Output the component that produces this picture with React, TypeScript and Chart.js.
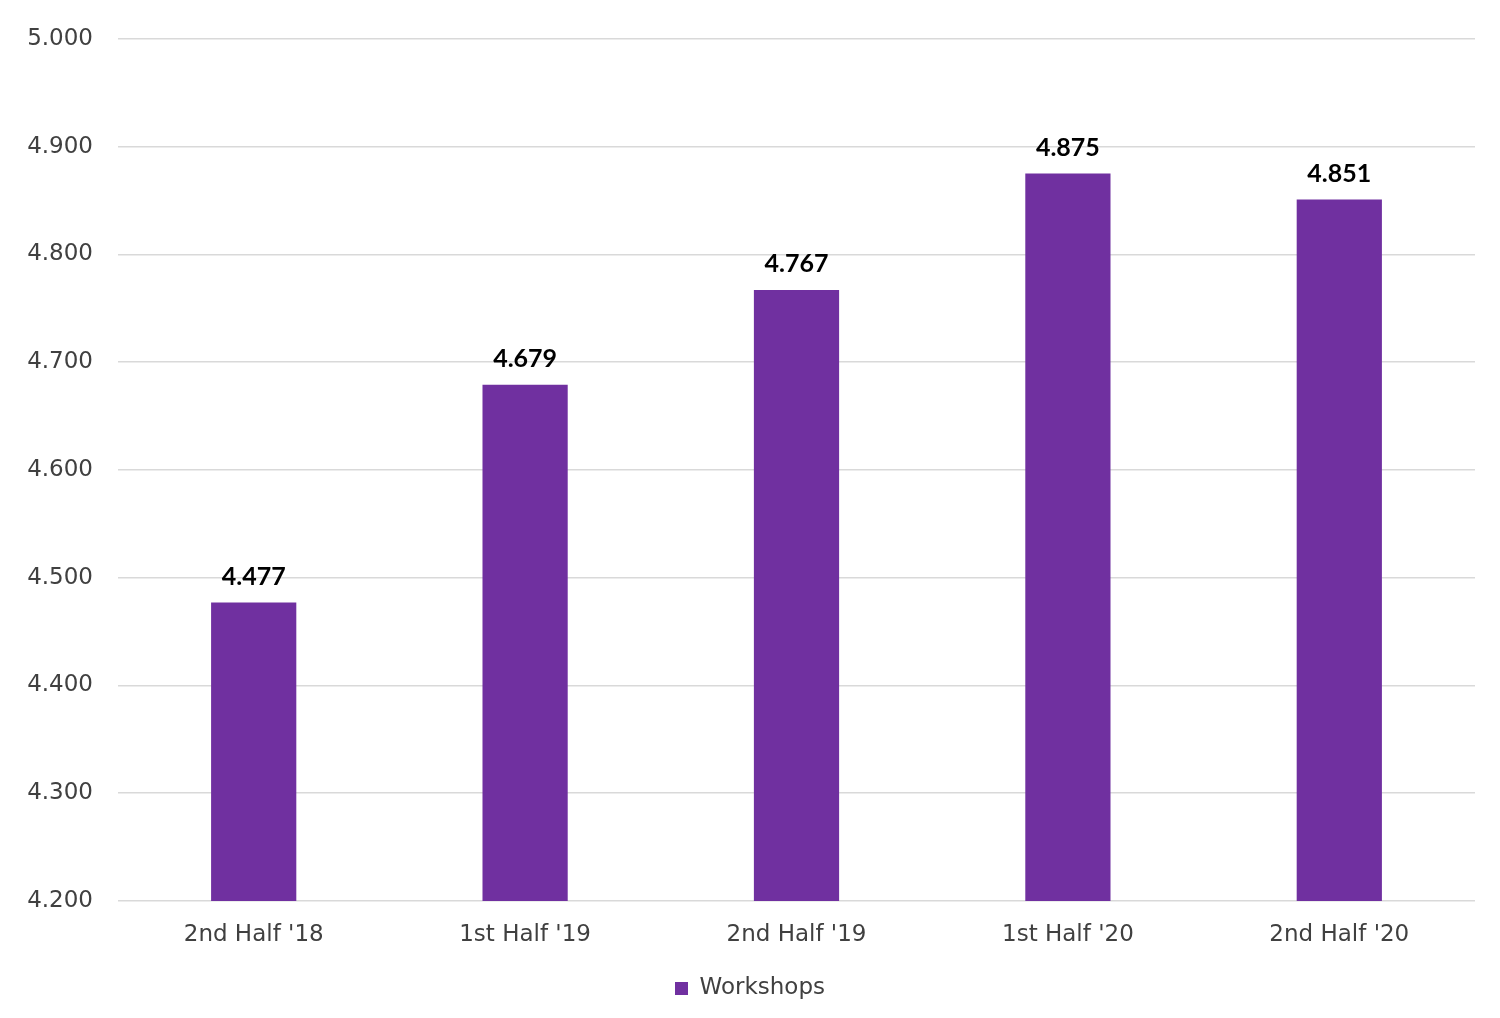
import { useEffect, useRef } from "react";
import { Chart, registerables } from "chart.js";

Chart.register(...registerables);

const categories = ["2nd Half '18", "1st Half '19", "2nd Half '19", "1st Half '20", "2nd Half '20"];
const workshops = [4.477, 4.679, 4.767, 4.875, 4.851];
const seriesName = "Workshops";
const yMin = 4.2;
const yMax = 5.0;
const yStep = 0.1;

const FONT = "'DejaVu Sans', sans-serif";
const BOLD_FONT = "Lato, sans-serif";
const PURPLE = "#7030A0";

const barLabels = {
  id: "barLabels",
  afterDatasetsDraw(chart: Chart) {
    const { ctx } = chart;
    const meta = chart.getDatasetMeta(0);
    ctx.save();
    ctx.font = `bold 25px ${BOLD_FONT}`;
    ctx.fillStyle = "#000000";
    ctx.textAlign = "center";
    ctx.textBaseline = "bottom";
    meta.data.forEach((bar: any, i: number) => {
      const v = chart.data.datasets[0].data[i] as number;
      ctx.fillText(v.toFixed(3), bar.x, bar.y - 13);
    });
    ctx.restore();
  },
};

const App = () => {
  const canvasRef = useRef<HTMLCanvasElement>(null);

  useEffect(() => {
    document.body.style.margin = "0";
    if (!canvasRef.current) return;
    const ctx = canvasRef.current.getContext("2d");
    if (!ctx) return;
    const chart = new Chart(ctx, {
      type: "bar",
      data: {
        labels: categories,
        datasets: [
          {
            label: seriesName,
            data: workshops,
            backgroundColor: PURPLE,
            barPercentage: 0.314,
            categoryPercentage: 1,
          },
        ],
      },
      plugins: [barLabels],
      options: {
        responsive: false,
        animation: false,
        layout: { padding: { top: 23, right: 25, left: 25, bottom: 8 } },
        plugins: {
          tooltip: { enabled: false },
          legend: {
            position: "bottom",
            labels: {
              font: { family: FONT, size: 23 },
              color: "#404040",
              boxWidth: 13,
              boxHeight: 13,
              padding: 8,
            },
          },
        },
        scales: {
          x: {
            grid: { display: false },
            border: { display: false },
            ticks: {
              font: { family: FONT, size: 23 },
              color: "#404040",
              padding: 12,
            },
            afterFit: (s: any) => {
              s.height = 68;
            },
          },
          y: {
            min: yMin,
            max: yMax,
            grid: { color: "#d9d9d9", drawTicks: false, lineWidth: 1.5 },
            border: { display: false },
            ticks: {
              stepSize: yStep,
              font: { family: FONT, size: 23 },
              color: "#404040",
              padding: 25,
              callback: (v: any) => Number(v).toFixed(3),
            },
            afterFit: (s: any) => {
              s.width = 93;
            },
          },
        },
      },
    });
    return () => {
      chart.destroy();
    };
  }, []);

  return <canvas ref={canvasRef} width={1500} height={1018} style={{ display: "block" }}></canvas>;
};

export default App;
